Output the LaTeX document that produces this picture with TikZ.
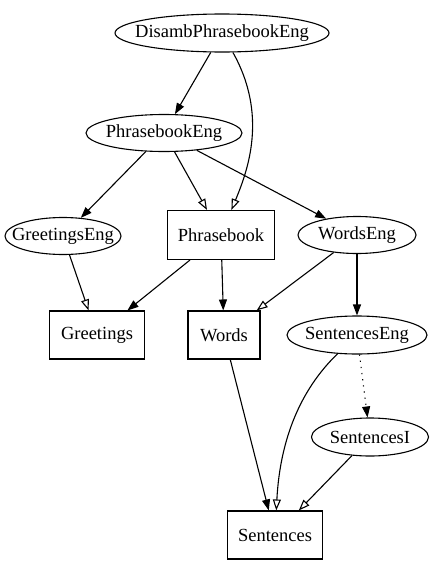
\documentclass[tikz,border=0pt]{standalone}
\usepackage{fontspec}
\setmainfont{Liberation Serif}
\usepackage{tikz}
\usetikzlibrary{arrows.meta, shapes.geometric}

\tikzset{
  ell/.style={draw, ellipse, line width=1.1pt, inner sep=0pt},
  box/.style={draw, rectangle, line width=1.1pt, inner sep=0pt},
  arr/.style={line width=1.1pt, -{Triangle[length=11pt,width=8pt]}},
  oarr/.style={line width=1.1pt, -{Triangle[open,length=11pt,width=8pt]}}
}

\begin{document}
\begin{tikzpicture}[x=1pt, y=-1pt, font=\fontsize{18.5pt}{20pt}\selectfont]
  \useasboundingbox (0,0) rectangle (434,565);

  % nodi
  \node[ell, minimum width=214pt, minimum height=38pt, label=center:DisambPhrasebookEng] (dpe) at (222,33) {};
  \node[ell, minimum width=156pt, minimum height=37pt, label=center:PhrasebookEng] (pbe) at (164,133) {};
  \node[ell, minimum width=116pt, minimum height=37pt, label=center:GreetingsEng] (ge) at (63,236) {};
  \node[box, minimum width=107pt, minimum height=49pt] (pb) at (221,235) {Phrasebook};
  \node[ell, minimum width=118pt, minimum height=37pt, label=center:WordsEng] (we) at (357,235) {};
  \node[box, minimum width=95pt, minimum height=48pt] (gr) at (97,335) {Greetings};
  \node[box, minimum width=72pt, minimum height=48pt] (wo) at (224,335) {Words};
  \node[ell, minimum width=140pt, minimum height=38pt, label=center:SentencesEng] (se) at (357,335) {};
  \node[ell, minimum width=117pt, minimum height=38pt, label=center:SentencesI] (si) at (370,437) {};
  \node[box, minimum width=95pt, minimum height=48pt] (sn) at (275,535) {Sentences};

  % archi
  \draw[arr] (dpe) -- (pbe);
  \draw[oarr] (dpe) .. controls (268,115) and (248,170) .. (pb);
  \draw[arr] (pbe) -- (ge);
  \draw[oarr] (pbe) -- (pb);
  \draw[arr] (pbe) -- (we);
  \draw[oarr] (ge) -- (gr);
  \draw[arr] (pb) -- (gr);
  \draw[arr] (pb) -- (wo);
  \draw[oarr] (we) -- (wo);
  \draw[arr] (we) -- (se);
  \draw[arr] (wo) -- (sn);
  \draw[oarr] (se) .. controls (300,390) and (280,440) .. (sn);
  \draw[arr, dash pattern=on 1.2pt off 5pt] (se) -- (si);
  \draw[oarr] (si) -- (sn);
\end{tikzpicture}
\end{document}
